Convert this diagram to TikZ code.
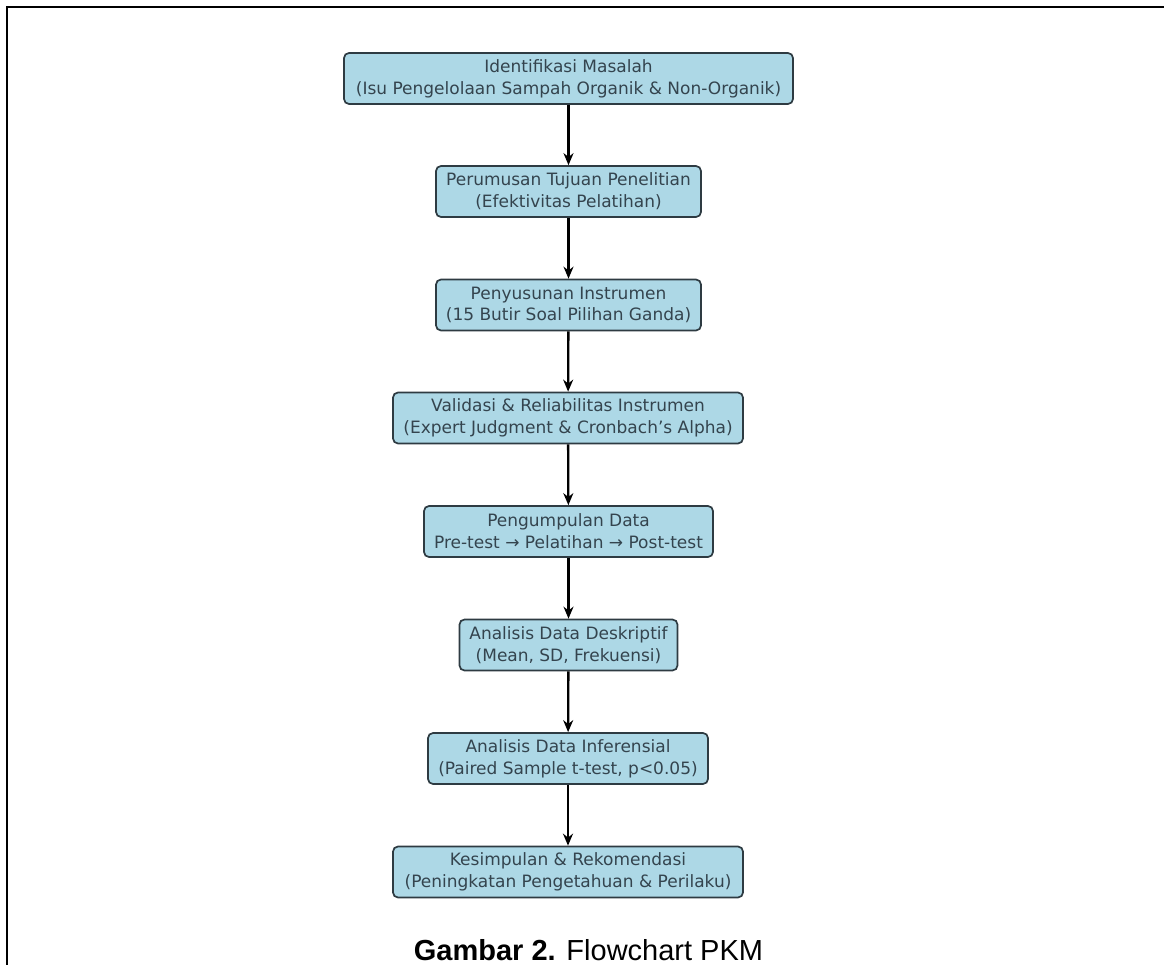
\documentclass[tikz,border=0pt]{standalone}
\usepackage{fontspec}
\setmainfont{DejaVu Sans}
\newfontfamily\capfont{Liberation Sans}
\usetikzlibrary{arrows.meta}
\definecolor{boxfill}{HTML}{ADD8E6}
\definecolor{boxline}{HTML}{2E3B42}
\definecolor{boxtext}{HTML}{34444E}
\tikzset{
  stepbox/.style={draw=boxline, line width=1.7pt, fill=boxfill, rounded corners=5pt,
    align=center, text=boxtext, minimum height=51pt, inner sep=0pt,
    font=\fontsize{17}{21.7}\selectfont},
  arr/.style={draw=black, line width=2.3pt, -{Stealth[length=12pt,width=10pt]}},
  frameline/.style={draw=black, line width=2pt},
  captext/.style={anchor=base, inner sep=0pt, font=\capfont\fontsize{29}{33}\selectfont}
}
\begin{document}
\begin{tikzpicture}[x=1pt,y=-1pt]
\useasboundingbox (0,0) rectangle (1164,965);
\fill[white] (0,0) rectangle (1164,965);
\coordinate (ftl) at (7,7.5);
\coordinate (ftr) at (1164,7.5);
\coordinate (fbl) at (7,965);
\draw[frameline] (fbl) -- (ftl) -- (ftr);
\node[stepbox, minimum width=449pt] (b1) at (568.5,78.5) {Identifikasi Masalah\\(Isu Pengelolaan Sampah Organik \& Non-Organik)};
\node[stepbox, minimum width=265pt] (b2) at (568.5,191.5) {Perumusan Tujuan Penelitian\\(Efektivitas Pelatihan)};
\node[stepbox, minimum width=265pt] (b3) at (568.5,305) {Penyusunan Instrumen\\(15 Butir Soal Pilihan Ganda)};
\node[stepbox, minimum width=350pt] (b4) at (568,418) {Validasi \& Reliabilitas Instrumen\\(Expert Judgment \& Cronbach's Alpha)};
\node[stepbox, minimum width=289pt] (b5) at (568.5,531.5) {Pengumpulan Data\\Pre-test → Pelatihan → Post-test};
\node[stepbox, minimum width=218pt] (b6) at (568.5,645) {Analisis Data Deskriptif\\(Mean, SD, Frekuensi)};
\node[stepbox, minimum width=280pt] (b7) at (568,758.5) {Analisis Data Inferensial\\(Paired Sample t-test, p<0.05)};
\node[stepbox, minimum width=350pt] (b8) at (568,872) {Kesimpulan \& Rekomendasi\\(Peningkatan Pengetahuan \& Perilaku)};
\draw[arr] (b1) -- (b2);
\draw[arr] (b2) -- (b3);
\draw[arr] (b3) -- (b4);
\draw[arr] (b4) -- (b5);
\draw[arr] (b5) -- (b6);
\draw[arr] (b6) -- (b7);
\draw[arr] (b7) -- (b8);
\node[captext] (cap) at (588.5,960.5) {\textbf{Gambar 2.} Flowchart PKM};
\end{tikzpicture}
\end{document}
